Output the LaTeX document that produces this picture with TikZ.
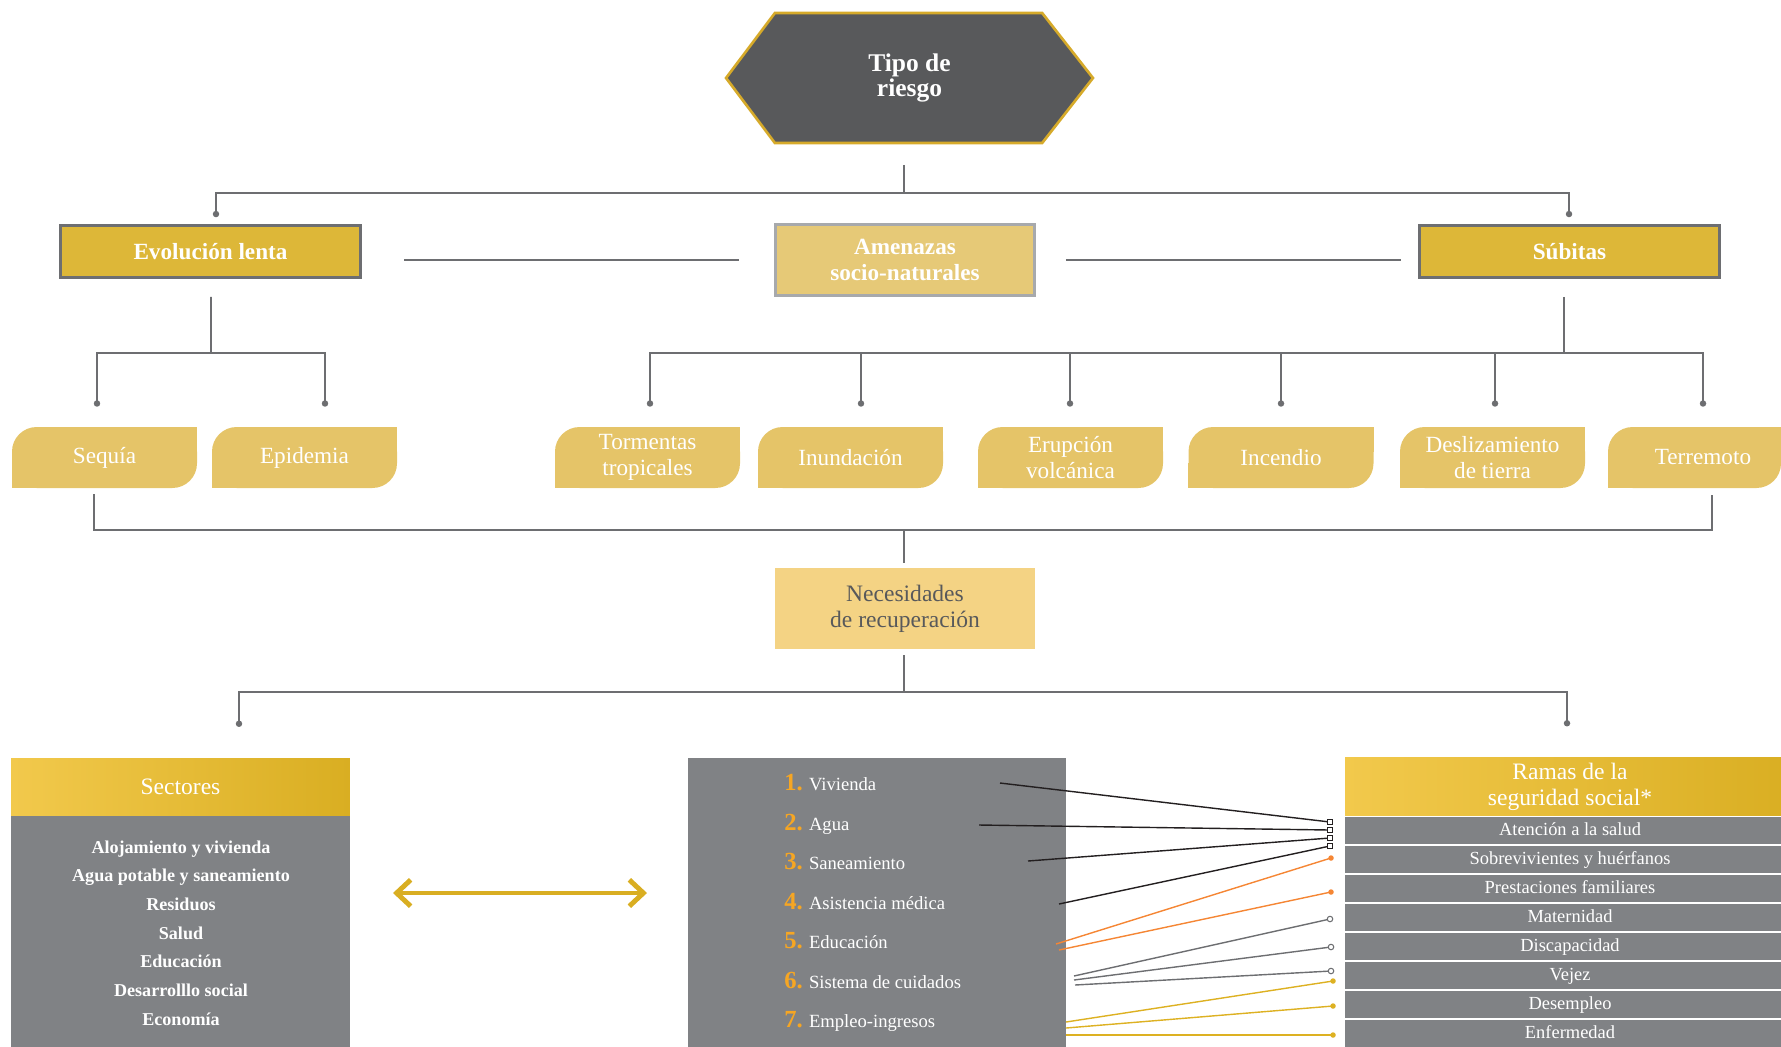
\documentclass[tikz,border=0pt]{standalone}
\usepackage{fontspec}
\setmainfont{Liberation Serif}
\usetikzlibrary{arrows.meta,calc,backgrounds}

\definecolor{hexgray}{HTML}{58595B}
\definecolor{hexgold}{HTML}{D6AA2A}
\definecolor{boxgold}{HTML}{DDB738}
\definecolor{boxedge}{HTML}{6D6E71}
\definecolor{amenfill}{HTML}{E6C977}
\definecolor{amenedge}{HTML}{A7A9AC}
\definecolor{cardfill}{HTML}{E5C468}
\definecolor{needfill}{HTML}{F4D384}
\definecolor{panelgray}{HTML}{808285}
\definecolor{linegray}{HTML}{6D6E71}
\definecolor{goldL}{HTML}{F2C94C}
\definecolor{goldR}{HTML}{D9AE22}
\definecolor{numorange}{HTML}{F6A623}
\definecolor{inkblack}{HTML}{231F20}
\definecolor{linkorange}{HTML}{F58634}
\definecolor{linkgold}{HTML}{DDB122}

\begin{document}
\begin{tikzpicture}[x=0.02cm, y=-0.02cm,
    conn/.style={draw=linegray, line width=1pt},
    dotend/.style={-{Circle[length=3.6pt]}},
    riskbox/.style={rectangle, fill=boxgold, draw=boxedge, line width=1.5pt, minimum width=6cm, minimum height=1.04cm, text=white, font=\bfseries\fontsize{13.2}{15}\selectfont},
    card/.style={rectangle, fill=cardfill, rounded corners=14pt, minimum height=1.22cm, inner sep=0pt, text=white, align=center, font=\fontsize{13.2}{14.8}\selectfont},
    header/.style={rectangle, left color=goldL, right color=goldR, minimum height=1.15cm, inner sep=0pt, text=white, align=center, font=\fontsize{13.4}{14.8}\selectfont},
    panel/.style={rectangle, fill=panelgray, inner sep=0pt},
    rowbox/.style={panel, minimum width=9cm, minimum height=0.53cm, text=white, text height=1.6ex, text depth=.4ex, font=\fontsize{10.5}{12}\selectfont},
    numitem/.style={anchor=base west, inner sep=0pt, text=white, font=\fontsize{10.6}{12}\selectfont},
    link/.style={line width=0.8pt},
    sqmark/.style={rectangle, draw=inkblack, fill=white, line width=0.6pt, minimum size=0.1cm, inner sep=0pt},
    dotmark/.style={circle, fill=#1, minimum size=0.11cm, inner sep=0pt},
    ringmark/.style={circle, draw=linegray, fill=white, line width=0.6pt, minimum size=0.11cm, inner sep=0pt}
]
    \useasboundingbox (0,0) rectangle (1781,1046);
    \clip (0,0) rectangle (1781,1046);

    % tipo de riesgo
    \node[minimum width=7.34cm, minimum height=2.6cm, outer sep=0pt, text=white, align=center, font=\bfseries\fontsize{14.5}{14.2}\selectfont] (tipo) at (909.5,78) {Tipo de\\riesgo};
    \begin{scope}[on background layer]
        \filldraw[fill=hexgray, draw=hexgold, line width=1.5pt] (tipo.west) -- ([xshift=27.8pt]tipo.north west) -- ([xshift=-28.9pt]tipo.north east) -- (tipo.east) -- ([xshift=-28.9pt]tipo.south east) -- ([xshift=27.8pt]tipo.south west) -- cycle;
    \end{scope}

    % three kinds
    \node[riskbox] (evol) at (210.5,251.5) {Evolución lenta};
    \node[riskbox] (subitas) at (1569.5,251.5) {Súbitas};
    \node[rectangle, fill=amenfill, draw=amenedge, line width=1.7pt, minimum width=5.18cm, minimum height=1.42cm, text=white, align=center, font=\bfseries\fontsize{13.2}{14.8}\selectfont] (amen) at (905,260) {Amenazas\\socio-naturales};

    % hazards
    \foreach \nm/\cx/\w/\txt in {sequia/104.5/185/Sequía, epidemia/304.5/185/Epidemia, tormentas/647.5/185/{Tormentas\\tropicales}, inundacion/850.5/185/Inundación, erupcion/1070.5/185/{Erupción\\volcánica}, incendio/1281/185/Incendio, deslizamiento/1492.5/185/{Deslizamiento\\de tierra}, terremoto/1694.5/173/{\hspace*{9.6pt}Terremoto}}{
        \node[card, minimum width=\w*0.02cm] (\nm) at (\cx,457.5) {\txt};
        \begin{scope}[on background layer]
            \fill[cardfill] (\nm.north east) rectangle ++(-25,25);
            \fill[cardfill] (\nm.south west) rectangle ++(25,-25);
        \end{scope}
    }

    \node[rectangle, fill=needfill, minimum width=5.2cm, minimum height=1.62cm, text=hexgray, align=center, font=\fontsize{13.4}{14.8}\selectfont] (needs) at (905,608.5) {Necesidades\\de recuperación};

    % upper connectors
    \coordinate (topbar) at (904,193);
    \draw[conn] ($(tipo.south)+(-5.5,22)$) -- (topbar);
    \draw[conn, dotend] (topbar) -| ($(evol.north)+(5.5,-7)$);
    \draw[conn, dotend] (topbar) -| ($(subitas.north)+(-0.5,-7)$);
    \draw[conn, shorten <=20pt, shorten >=24pt] (amen.west) -- (amen.west -| evol.east);
    \draw[conn, shorten <=17pt, shorten >=10pt] (amen.east) -- (amen.east -| subitas.west);

    \coordinate (slowbar) at (211,353);
    \draw[conn] ($(evol.south)+(0.5,18)$) -- (slowbar);
    \foreach \nm/\dx in {sequia/-7.5, epidemia/20.5}
        \draw[conn, dotend] (slowbar) -| ($(\nm.north)+(\dx,-20)$);

    \coordinate (fastbar) at (1564,353);
    \draw[conn] ($(subitas.south)+(-5.5,18)$) -- (fastbar);
    \foreach \nm/\dx in {tormentas/2.5, inundacion/10.5, erupcion/-0.5, incendio/0, deslizamiento/2.5, terremoto/8.5}
        \draw[conn, dotend] (fastbar) -| ($(\nm.north)+(\dx,-20)$);

    % hazards to needs
    \coordinate (cardbar) at (904,530);
    \draw[conn] ($(sequia.south)+(-10.5,6)$) |- (cardbar);
    \draw[conn] ($(terremoto.south)+(17.5,7)$) |- (cardbar);
    \draw[conn] (cardbar) -- ($(needs.north)+(-1,-5)$);

    % sectores
    \node[header, minimum width=6.78cm] (sect) at (180.5,787) {Sectores};
    \node[panel, anchor=north, minimum width=6.78cm, minimum height=5cm] (sectbody) at (sect.south) {};
    \node[align=center, text=white, font=\bfseries\fontsize{10.3}{16.3}\selectfont] (sectlist) at (181,933) {Alojamiento y vivienda\\Agua potable y saneamiento\\Residuos\\Salud\\Educación\\Desarrolllo social\\Economía};

    % needs list
    \node[panel, anchor=north west, minimum width=7.56cm, minimum height=6cm] (mid) at (688,758) {};
    \foreach \ix/\t/\y in {1/Vivienda/790, 2/Agua/830, 3/Saneamiento/869, 4/Asistencia médica/909, 5/Educación/948, 6/Sistema de cuidados/988, 7/Empleo-ingresos/1027}
        \node[numitem] (item\ix) at (784,\y) {\textcolor{numorange}{\bfseries\fontsize{14}{14}\selectfont\ix.} \t};

    \coordinate (arrL) at (393,893);
    \coordinate (arrR) at (647,893);
    \draw[goldR, line width=2.8pt, {Straight Barb[length=8pt, width=15pt]}-{Straight Barb[length=8pt, width=15pt]}] (arrL) -- (arrR);

    % ramas
    \node[header, minimum width=9cm] (ramas) at (1570,786.5) {Ramas de la\\seguridad social*};
    \foreach \rt [count=\ix] in {Atención a la salud, Sobrevivientes y huérfanos, Prestaciones familiares, Maternidad, Discapacidad, Vejez, Desempleo, Enfermedad}
        \node[rowbox] (rama\ix) at (1570,{830.25+29*(\ix-1)}) {\rt};

    \coordinate (needbar) at (904,692);
    \draw[conn] ($(needs.south)+(-1,6)$) -- (needbar);
    \draw[conn, dotend] (needbar) -| ($(sect.north)+(58.5,-31)$);
    \draw[conn, dotend] (needbar) -| ($(ramas.north)+(-3,-31)$);

    % links
    \foreach \ix/\sx/\sy/\ex/\ey/\col in {1/1000/783/1330/822/inkblack, 2/979/825/1330/830/inkblack, 3/1028/861/1330/838/inkblack, 4/1059/904/1330/846/inkblack, 5/1056/944/1331/858/linkorange, 6/1059/950/1331/892/linkorange, 7/1074/976/1330/919/linegray, 8/1074/980/1331/947/linegray, 9/1075/985/1331/971/linegray, 10/1066/1022/1333/981/linkgold, 11/1066/1028/1333/1006/linkgold, 12/1066/1035/1333/1035/linkgold}{
        \coordinate (lk\ix) at (\sx,\sy);
        \coordinate (mk\ix) at (\ex,\ey);
        \draw[link, color=\col] (lk\ix) -- (mk\ix);
    }
    \foreach \ix in {1,...,4} \node[sqmark] (mark\ix) at (mk\ix) {};
    \foreach \ix in {5,6} \node[dotmark=linkorange] (mark\ix) at (mk\ix) {};
    \foreach \ix in {7,8,9} \node[ringmark] (mark\ix) at (mk\ix) {};
    \foreach \ix in {10,11,12} \node[dotmark=linkgold] (mark\ix) at (mk\ix) {};
\end{tikzpicture}
\end{document}
